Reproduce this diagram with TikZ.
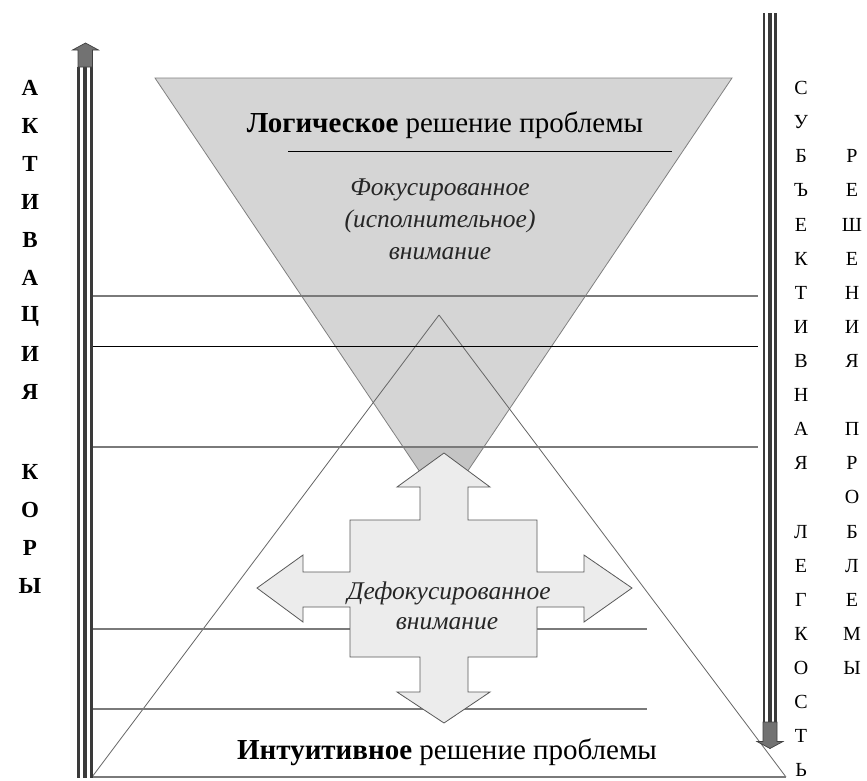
\documentclass[tikz,border=0pt]{standalone}
\usepackage{fontspec}
\setmainfont{Liberation Serif}
\definecolor{trifill}{HTML}{D5D5D5}
\definecolor{tridark}{HTML}{C4C4C4}
\definecolor{crossfill}{HTML}{ECECEC}
\definecolor{barcol}{HTML}{3A3A3A}
\definecolor{headfill}{HTML}{727272}
\definecolor{linegray}{HTML}{7A7A7A}
\tikzset{
  grayline/.style={draw=linegray, line width=1.6pt},
  blackline/.style={draw=black, line width=0.9pt},
  triedge/.style={draw=black!60, line width=0.8pt},
  crossstyle/.style={draw=black!65, fill=crossfill, line width=0.8pt, line join=miter},
  barline/.style={draw=barcol, line width=3.2pt},
  headstyle/.style={draw=black!75, fill=headfill, line width=0.7pt},
  titletext/.style={font=\fontsize{29}{33}\selectfont, inner sep=0pt},
  ittext/.style={font=\fontsize{25.5}{32}\selectfont\itshape, inner sep=0pt, align=center, text=black!85},
  leftletter/.style={font=\fontsize{23}{25}\selectfont\bfseries, inner sep=0pt},
  rightletter/.style={font=\fontsize{20}{22}\selectfont, inner sep=0pt}
}
\begin{document}
\begin{tikzpicture}[x=1pt,y=-1pt]
\useasboundingbox (0,0) rectangle (867,780);
\fill[white] (0,0) rectangle (867,780);

% corner coordinates
\coordinate (tl) at (155,78);
\coordinate (tr) at (732,78);
\coordinate (tb) at (443.5,507);
\coordinate (ba) at (439,315);
\coordinate (bl) at (92,777);
\coordinate (br) at (786,777);

% logical (inverted) triangle
\fill[trifill] (tl) -- (tr) -- (tb) -- cycle;
\begin{scope}
  \clip (tl) -- (tr) -- (tb) -- cycle;
  \fill[tridark] (0,447) rectangle (867,780);
\end{scope}
\draw[triedge, draw=black!50] (tl) -- (tr) -- (tb) -- cycle;

% intuitive triangle
\draw[triedge] (ba) -- (br);
\draw[triedge] (ba) -- (bl);
\draw[grayline] (bl) -- (br);

% horizontal levels
\coordinate (h1a) at (92,296);  \coordinate (h1b) at (758,296);
\coordinate (h2a) at (92,346);  \coordinate (h2b) at (758,346);
\coordinate (h3a) at (92,447);  \coordinate (h3b) at (758,447);
\coordinate (h4a) at (92,629);  \coordinate (h4b) at (647,629);
\coordinate (h5a) at (92,709);  \coordinate (h5b) at (647,709);
\draw[grayline] (h1a) -- (h1b);
\draw[blackline] (h2a) -- (h2b);
\draw[grayline] (h3a) -- (h3b);
\draw[grayline] (h4a) -- (h4b);
\draw[grayline] (h5a) -- (h5b);

% underline of title
\coordinate (ula) at (288,151);
\coordinate (ulb) at (672,151);
\draw[blackline] (ula) -- (ulb);

% cross arrow
\draw[crossstyle] (444,453) -- (490,487) -- (468,487) -- (468,520) -- (537,520) -- (537,572) -- (584,572) -- (584,555) -- (632,588) -- (584,622) -- (584,607) -- (537,607) -- (537,657) -- (468,657) -- (468,692) -- (490,692) -- (444,723) -- (397,692) -- (420,692) -- (420,657) -- (350,657) -- (350,607) -- (303,607) -- (303,622) -- (257,588) -- (303,555) -- (303,572) -- (350,572) -- (350,520) -- (420,520) -- (420,487) -- (397,487) -- cycle;

% left bar (arrow up)
\coordinate (lbt) at (85,67);
\coordinate (lbb) at (85,778);
\draw[barline, line width=3.2pt] ([xshift=-6.2pt]lbt) -- ([xshift=-6.2pt]lbb);
\draw[barline, line width=3.6pt] (lbt) -- (lbb);
\draw[barline, line width=2.8pt] ([xshift=6.2pt]lbt) -- ([xshift=6.2pt]lbb);
\draw[headstyle] (78,67) -- (78,50) -- (72.5,50) -- (85.5,43) -- (98.5,50) -- (92.5,50) -- (92.5,67) -- cycle;

% right bar (arrow down)
\coordinate (rbt) at (770,13);
\coordinate (rbb) at (770,723);
\draw[barline, line width=2.8pt] ([xshift=-6pt]rbt) -- ([xshift=-6pt]rbb);
\draw[barline, line width=4pt] (rbt) -- (rbb);
\draw[barline, line width=2.6pt] ([xshift=5.5pt]rbt) -- ([xshift=5.5pt]rbb);
\draw[headstyle] (763,722) -- (763,741.5) -- (757,741.5) -- (770,748.5) -- (783,741.5) -- (777,741.5) -- (777,722) -- cycle;

% texts
\node[titletext] (logic) at (445,125) {\textbf{Логическое} решение проблемы};
\node[ittext] (focus) at (440,219) {Фокусированное\\(исполнительное)\\внимание};
\node[ittext, text depth=0pt] (defocus1) at (449,591) {Дефокусированное};
\node[ittext] (defocus2) at (447,624) {внимание};
\node[titletext] (intu) at (447,752) {\textbf{Интуитивное} решение проблемы};

% left column
\foreach \ch/\yy [count=\i] in {А/88,К/126,Т/164,И/202,В/240,А/278,Ц/316,И/354,Я/392,К/472,О/510,Р/548,Ы/586}
  \node[leftletter] (lc\i) at (30,\yy) {\ch};

% right column 1
\foreach \ch/\yy [count=\i] in {С/88,У/122,Б/156,Ъ/190,Е/225,К/259,Т/293,И/327,В/361,Н/395,А/429,Я/463,Л/532,Е/566,Г/600,К/634,О/668,С/702,Т/736,Ь/770}
  \node[rightletter] (rc\i) at (801,\yy) {\ch};

% right column 2
\foreach \ch/\yy [count=\i] in {Р/156,Е/190,Ш/225,Е/259,Н/293,И/327,Я/361,П/429,Р/463,О/497,Б/532,Л/566,Е/600,М/634,Ы/668}
  \node[rightletter] (rd\i) at (852,\yy) {\ch};
\end{tikzpicture}
\end{document}
